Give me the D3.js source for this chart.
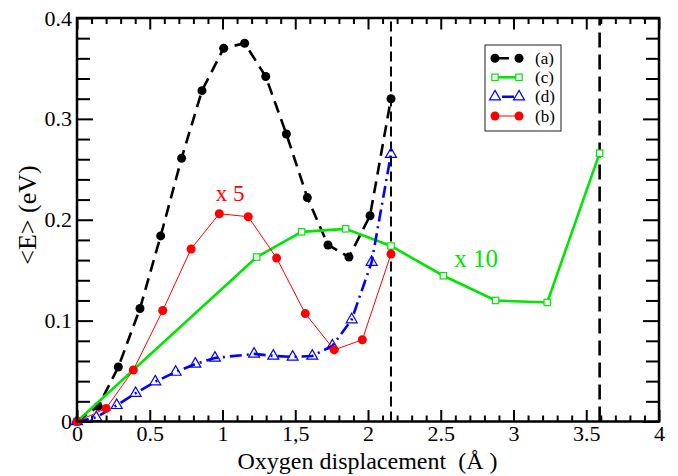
<!DOCTYPE html>
<html><head><meta charset="utf-8">
<script src="https://cdn.jsdelivr.net/npm/d3@7"></script>
<style>body{margin:0;background:#fff}svg{display:block}text{font-family:"Liberation Serif","Times New Roman",serif}</style>
</head><body>
<svg id="c" width="678" height="476"></svg>
<script>
// ---- data ----
const aX = [0, 0.146, 0.284, 0.433, 0.575, 0.719, 0.859, 1.008, 1.152, 1.297, 1.439, 1.583, 1.725, 1.869, 2.014, 2.158];
const aY = [0, 0.015, 0.054, 0.112, 0.184, 0.261, 0.328, 0.370, 0.375, 0.342, 0.285, 0.222, 0.175, 0.163, 0.204, 0.320];
const bX = [0, 0.200, 0.387, 0.589, 0.784, 0.978, 1.177, 1.372, 1.569, 1.768, 1.961, 2.158];
const bY = [0, 0.013, 0.051, 0.110, 0.171, 0.206, 0.203, 0.162, 0.107, 0.071, 0.081, 0.166];
const cX = [0, 1.235, 1.544, 1.846, 2.158, 2.518, 2.877, 3.232, 3.592];
const cY = [0, 0.163, 0.188, 0.191, 0.174, 0.1445, 0.120, 0.118, 0.266];
const dX = [0, 0.132, 0.273, 0.403, 0.538, 0.678, 0.813, 0.948, 1.217, 1.349, 1.482, 1.617, 1.755, 1.888, 2.025, 2.158];
const dY = [0, 0.004, 0.016, 0.028, 0.0395, 0.049, 0.057, 0.063, 0.067, 0.065, 0.064, 0.065, 0.075, 0.101, 0.158, 0.265];
const vLines = [2.158, 3.592];
const xTicks = [0, 0.5, 1, 1.5, 2, 2.5, 3, 3.5, 4];
const xTickLabels = ["0", "0.5", "1", "1,5", "2", "2.5", "3", "3.5", "4"];
const yTicks = [0, 0.1, 0.2, 0.3, 0.4];
const yTickLabels = ["0", "0.1", "0.2", "0.3", "0.4"];
const legendLabels = ["(a)", "(c)", "(d)", "(b)"];

// ---- layout ----
const L = 77, R = 659, T = 18, B = 421.5;
const svg = d3.select("#c");
svg.append("rect").attr("width", 678).attr("height", 476).attr("fill", "#fff");
const x = d3.scaleLinear().domain([0, 4]).range([L, R]);
const y = d3.scaleLinear().domain([0, 0.4]).range([B, T]);

const GREEN = "#00e600", BLUE = "#0000ff", RED = "#ff0000";

const xMinor = d3.range(0, 4.0001, 0.1).filter(v => Math.abs(v * 2 - Math.round(v * 2)) > 1e-6);
const yMinor = d3.range(0, 0.40001, 0.02).filter(v => Math.abs(v * 10 - Math.round(v * 10)) > 1e-6);

function styleAxis(g) {
  g.select(".domain").remove();
  g.selectAll("line").attr("stroke", "#000").attr("stroke-width", 2);
  g.selectAll("text").attr("font-family", "Liberation Serif, serif").attr("font-size", 22).attr("fill", "#000");
}
svg.append("g").attr("transform", `translate(0,${B})`)
  .call(d3.axisBottom(x).tickValues(xTicks).tickSize(-11.5).tickPadding(4).tickFormat((d, i) => xTickLabels[i])).call(styleAxis);
svg.append("g").attr("transform", `translate(0,${B})`)
  .call(d3.axisBottom(x).tickValues(xMinor).tickSize(-6).tickFormat("")).call(styleAxis);
svg.append("g").attr("transform", `translate(0,${T})`)
  .call(d3.axisTop(x).tickValues(xTicks).tickSize(-11.5).tickFormat("")).call(styleAxis);
svg.append("g").attr("transform", `translate(0,${T})`)
  .call(d3.axisTop(x).tickValues(xMinor).tickSize(-6).tickFormat("")).call(styleAxis);
svg.append("g").attr("transform", `translate(${L},0)`)
  .call(d3.axisLeft(y).tickValues(yTicks).tickSize(-16).tickPadding(5).tickFormat((d, i) => yTickLabels[i])).call(styleAxis);
svg.append("g").attr("transform", `translate(${L},0)`)
  .call(d3.axisLeft(y).tickValues(yMinor).tickSize(-13).tickFormat("")).call(styleAxis);
svg.append("g").attr("transform", `translate(${R},0)`)
  .call(d3.axisRight(y).tickValues(yTicks).tickSize(-16).tickFormat("")).call(styleAxis);
svg.append("g").attr("transform", `translate(${R},0)`)
  .call(d3.axisRight(y).tickValues(yMinor).tickSize(-13).tickFormat("")).call(styleAxis);

// vertical dashed lines
svg.append("line").attr("x1", x(vLines[0])).attr("x2", x(vLines[0])).attr("y1", B).attr("y2", T)
  .attr("stroke", "#000").attr("stroke-width", 2).attr("stroke-dasharray", "10,5");
svg.append("line").attr("x1", x(vLines[1])).attr("x2", x(vLines[1])).attr("y1", B).attr("y2", T)
  .attr("stroke", "#000").attr("stroke-width", 2.6).attr("stroke-dasharray", "15,7");

const line = d3.line().x(d => x(d[0])).y(d => y(d[1]));
const zip = (xs, ys) => xs.map((v, i) => [v, ys[i]]);
const A = zip(aX, aY), Bd = zip(bX, bY), C = zip(cX, cY), D = zip(dX, dY);

const plot = svg.append("g");
// (a)
plot.append("path").datum(A).attr("d", line).attr("fill", "none").attr("stroke", "#000")
  .attr("stroke-width", 2.6).attr("stroke-dasharray", "12,7");
plot.selectAll(".ma").data(A).enter().append("circle").attr("cx", d => x(d[0])).attr("cy", d => y(d[1]))
  .attr("r", 4.5).attr("fill", "#000");
// (c)
plot.append("path").datum(C).attr("d", line).attr("fill", "none").attr("stroke", GREEN).attr("stroke-width", 2.6);
plot.selectAll(".mc").data(C).enter().append("rect").attr("x", d => x(d[0]) - 3.2).attr("y", d => y(d[1]) - 3.2)
  .attr("width", 6.4).attr("height", 6.4).attr("fill", "#fff").attr("stroke", GREEN).attr("stroke-width", 1.2);
// (d)
plot.append("path").datum(D).attr("d", line).attr("fill", "none").attr("stroke", BLUE)
  .attr("stroke-width", 2.6).attr("stroke-dasharray", "12,5,2,5");
const tri = d3.symbol().type(d3.symbolTriangle).size(52);
plot.selectAll(".md").data(D).enter().append("path").attr("d", tri)
  .attr("transform", d => `translate(${x(d[0])},${y(d[1])})`)
  .attr("fill", "none").attr("stroke", BLUE).attr("stroke-width", 1.2);
// (b)
plot.append("path").datum(Bd).attr("d", line).attr("fill", "none").attr("stroke", RED).attr("stroke-width", 1);
plot.selectAll(".mb").data(Bd).enter().append("circle").attr("cx", d => x(d[0])).attr("cy", d => y(d[1]))
  .attr("r", 4.5).attr("fill", RED);

// frame
svg.append("rect").attr("x", L).attr("y", T).attr("width", R - L).attr("height", B - T)
  .attr("fill", "none").attr("stroke", "#000").attr("stroke-width", 2.5);

// annotations
svg.append("text").attr("x", 230).attr("y", 201).attr("text-anchor", "middle").attr("font-size", 23).attr("fill", RED).text("x 5");
svg.append("text").attr("x", 476).attr("y", 267).attr("text-anchor", "middle").attr("font-size", 25).attr("fill", GREEN).text("x 10");

// axis titles
svg.append("text").attr("transform", "translate(36,215) rotate(-90)").attr("text-anchor", "middle")
  .attr("font-size", 26).attr("fill", "#000").text("<E> (eV)");
svg.append("text").attr("x", 367.5).attr("y", 469).attr("text-anchor", "middle")
  .attr("font-size", 24).attr("fill", "#000").attr("xml:space", "preserve").style("white-space", "pre").text("Oxygen displacement  (Å )");

// legend
const lg = svg.append("g");
lg.append("rect").attr("x", 485).attr("y", 45).attr("width", 76).attr("height", 86)
  .attr("fill", "#fff").attr("stroke", "#444").attr("stroke-width", 1.2);
const rows = [58.3, 77.3, 96.7, 116];
const lx1 = 495, lx2 = 519;
lg.append("line").attr("x1", lx1).attr("x2", lx2).attr("y1", rows[0]).attr("y2", rows[0])
  .attr("stroke", "#000").attr("stroke-width", 2.6).attr("stroke-dasharray", "14,6");
[lx1, lx2].forEach(px => lg.append("circle").attr("cx", px).attr("cy", rows[0]).attr("r", 4.5).attr("fill", "#000"));
lg.append("line").attr("x1", lx1).attr("x2", lx2).attr("y1", rows[1]).attr("y2", rows[1]).attr("stroke", GREEN).attr("stroke-width", 2.6);
[lx1, lx2].forEach(px => lg.append("rect").attr("x", px - 3.2).attr("y", rows[1] - 3.2).attr("width", 6.4).attr("height", 6.4)
  .attr("fill", "#fff").attr("stroke", GREEN).attr("stroke-width", 1.2));
lg.append("line").attr("x1", lx1).attr("x2", lx2).attr("y1", rows[2]).attr("y2", rows[2])
  .attr("stroke", BLUE).attr("stroke-width", 2.6).attr("stroke-dasharray", "0,7,12,5");
[lx1, lx2].forEach(px => lg.append("path").attr("d", tri).attr("transform", `translate(${px},${rows[2]})`)
  .attr("fill", "#fff").attr("stroke", BLUE).attr("stroke-width", 1.2));
lg.append("line").attr("x1", lx1).attr("x2", lx2).attr("y1", rows[3]).attr("y2", rows[3]).attr("stroke", RED).attr("stroke-width", 1);
[lx1, lx2].forEach(px => lg.append("circle").attr("cx", px).attr("cy", rows[3]).attr("r", 4.5).attr("fill", RED));
legendLabels.forEach((t, i) => lg.append("text").attr("x", 535).attr("y", rows[i]).attr("dy", "0.33em")
  .attr("font-size", 17).attr("fill", "#000").text(t));
</script>
</body></html>
